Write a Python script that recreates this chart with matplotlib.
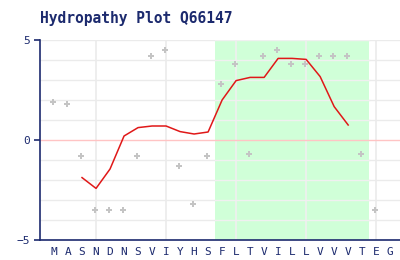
import numpy as np
import matplotlib
matplotlib.use('Agg')
import matplotlib.pyplot as plt

# 序列与数据
seq = list("MASNDNSVIYHSFLTVILLVVVTEG")
scores = [1.9, 1.8, -0.8, -3.5, -3.5, -3.5, -0.8, 4.2, 4.5, -1.3, -3.2, -0.8,
          2.8, 3.8, -0.7, 4.2, 4.5, 3.8, 3.8, 4.2, 4.2, 4.2, -0.7, -3.5]
avg_pos = list(range(3, 23))
avg_vals = [-1.88, -2.42, -1.45, 0.2, 0.62, 0.7, 0.7, 0.42, 0.3, 0.4,
            2.0, 2.97, 3.13, 3.13, 4.08, 4.08, 4.03, 3.17, 1.67, 0.75]
tm_start, tm_end = 12.5, 23.5
grid_x = [4, 9, 14, 19, 24]

navy = '#1c2a6e'

fig = plt.figure(figsize=(4, 2.6), dpi=100)
ax = fig.add_axes([0.1, 240 / 260 * 0 + 20 / 260, 0.9, 200 / 260])
ax.set_xlim(0, 25.7)
ax.set_ylim(-5, 5)

# 背景网格
for y in range(-5, 6):
    if y != 0:
        ax.axhline(y, color='#ebebeb', lw=1, zorder=0)
for x in grid_x:
    ax.axvline(x, color='#ebebeb', lw=1.2, zorder=0)

ax.axvspan(tm_start, tm_end, color='#d0ffd8', zorder=0.5, lw=0)
for x in grid_x:
    if tm_start < x < tm_end:
        ax.axvline(x, color='#f0f0f0', lw=1.2, zorder=0.6)
for y in range(-5, 6):
    if y != 0:
        ax.plot([tm_start, tm_end], [y, y], color='#f0f0f0', lw=1, zorder=0.6)

ax.axhline(0, color='#ffc4c4', lw=1, zorder=1)

res_x = np.arange(1, len(scores) + 1) - 0.1
ax.plot(res_x, scores, 'P', color='#c4c4c4', ms=4.5, mew=0, zorder=2)
ax.plot(avg_pos, avg_vals, color='#e01818', lw=1.1, zorder=3)

for s in ['top', 'right']:
    ax.spines[s].set_visible(False)
ax.spines['left'].set_color(navy)
ax.spines['bottom'].set_color(navy)
ax.spines['left'].set_linewidth(1.2)
ax.spines['bottom'].set_linewidth(1.2)

ax.set_yticks([-5, 0, 5])
ax.set_yticklabels(['\u22125', '0', '5'], family='DejaVu Sans Mono')
ax.tick_params(axis='y', length=4, width=1.2, color=navy, labelcolor=navy,
               labelsize=8, pad=3)
ax.set_xticks(range(1, len(seq) + 1))
ax.set_xticklabels(seq, family='DejaVu Sans Mono')
ax.tick_params(axis='x', length=0, labelcolor=navy, labelsize=8, pad=5)

fig.text(0.1, 0.93, 'Hydropathy Plot Q66147', color=navy, fontsize=10.5,
         fontweight='bold', family='DejaVu Sans Mono', va='center')

fig.savefig('out.png', dpi=100)
